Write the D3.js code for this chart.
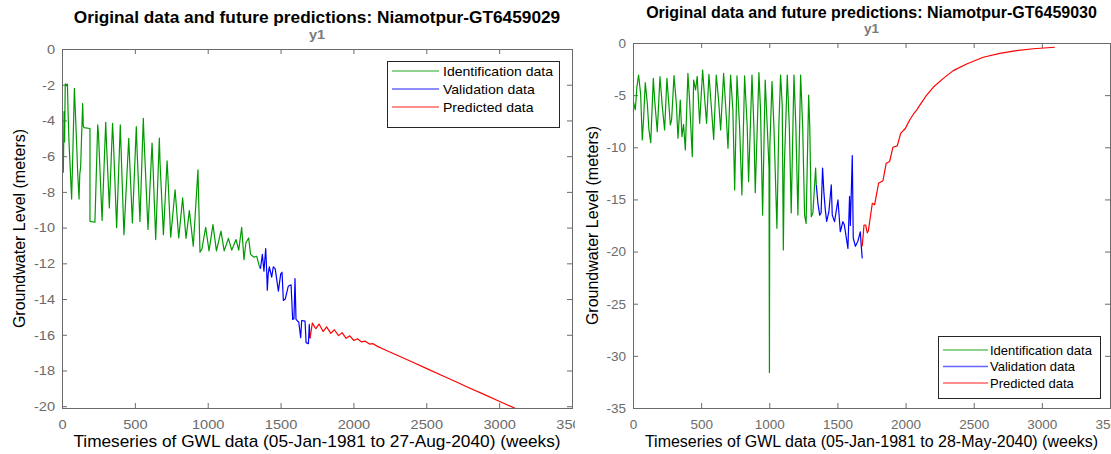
<!DOCTYPE html>
<html><head><meta charset="utf-8">
<script src="https://cdn.jsdelivr.net/npm/d3@7"></script>
<style>
body{margin:0;background:#fff}
svg{display:block}
text{font-family:"Liberation Sans",Arial,Helvetica,sans-serif}
</style>
</head><body>
<svg id="chart" width="1111" height="454"></svg>
<script>
// ---------- tick values ----------
const xTicks = [0, 500, 1000, 1500, 2000, 2500, 3000, 3500];
const leftYTicks = [0, -2, -4, -6, -8, -10, -12, -14, -16, -18, -20];
const rightYTicks = [0, -5, -10, -15, -20, -25, -30, -35];
const legendLabels = ["Identification data", "Validation data", "Predicted data"];

// ---------- Left panel: Niamotpur-GT6459029 ----------
const leftIdWeeks = [0,5,9,12,14,18,22,25,30,37,42,48,56,66,75,85,92,100,108,117,122,128,134,142,146,151,192,192,226,245,250,275,300,306,325,347,352,375,400,405,425,458,463,483,510,515,535,558,563,590,618,623,643,668,673,696,721,726,746,776,781,801,828,851,874,901,933,947,960,986,1009,1036,1060,1091,1113,1142,1165,1194,1213,1233,1249,1262,1281,1294,1318,1336,1354,1362];
const leftIdLevels = [-4.8,-5.6,-6.9,-5.0,-3.5,-5.2,-2.0,-1.95,-2.05,-1.97,-3.6,-5.2,-6.6,-8.4,-5.6,-2.2,-3.6,-5.2,-7.0,-8.4,-7.0,-6.6,-5.0,-3.05,-4.3,-4.4,-4.45,-9.65,-9.7,-4.25,-4.7,-9.6,-4.1,-5.4,-8.9,-4.16,-5.0,-10.0,-4.25,-5.5,-10.4,-5.0,-6.0,-9.74,-4.34,-5.6,-9.65,-3.88,-5.0,-10.1,-5.27,-6.2,-10.67,-4.99,-6.4,-10.4,-6.26,-7.0,-10.54,-7.88,-8.4,-10.58,-8.34,-10.6,-9.05,-11.04,-6.76,-11.38,-11.2,-9.98,-11.3,-9.83,-11.3,-10.2,-11.3,-10.6,-11.26,-10.67,-11.26,-9.98,-11.8,-10.85,-10.58,-11.5,-11.66,-11.6,-12.16,-12.3];
const leftValWeeks = [1362,1375,1386,1398,1405,1409,1415,1423,1439,1450,1463,1485,1501,1510,1519,1532,1553,1572,1583,1592,1599,1606,1625,1638,1645,1668,1675,1691,1697,1702];
const leftValLevels = [-12.3,-11.5,-12.44,-11.17,-12.5,-13.5,-12.6,-12.2,-12.77,-12.2,-12.3,-13.56,-12.59,-12.5,-14.08,-14.0,-13.28,-13.2,-15.14,-15.1,-12.85,-15.14,-15.3,-16.16,-15.2,-15.24,-16.44,-16.5,-15.42,-16.2];
const leftPredWeeks = [1702,1718,1742,1764,1792,1816,1845,1869,1898,1922,1950,1975,2003,2028,2056,2081,2110,2135,2165,2200,2300,2400,2500,2600,2700,2800,2900,3000,3109];
const leftPredLevels = [-16.2,-15.35,-15.66,-15.4,-15.82,-15.56,-15.92,-15.72,-16.05,-15.88,-16.2,-16.06,-16.32,-16.22,-16.4,-16.36,-16.52,-16.5,-16.65,-16.78,-17.15,-17.51,-17.88,-18.25,-18.62,-18.99,-19.35,-19.72,-20.12];

// ---------- Right panel: Niamotpur-GT6459030 ----------
const rightIdWeeks = [0,17,29,41,56,68,78,90,105,117,130,149,159,178,198,215,232,249,261,274,283,301,318,330,347,359,371,384,403,415,435,445,459,471,489,511,525,540,557,574,592,611,628,643,665,682,697,716,733,746,763,782,799,819,838,848,873,887,897,924,936,951,970,985,998,1001,1004,1020,1034,1056,1070,1083,1095,1103,1110,1132,1147,1161,1181,1195,1210,1230,1245,1259,1270,1289,1297,1308,1320,1340,1345];
const rightIdLevels = [-5.47,-6.4,-4.19,-3.07,-4.9,-9.3,-7.2,-3.8,-5.8,-8.34,-9.56,-3.39,-5.5,-8.5,-3.23,-6.1,-8.34,-3.39,-5.5,-7.86,-7.4,-3.13,-5.8,-9.14,-5.47,-8.98,-7.8,-10.26,-2.91,-5.5,-10.9,-3.55,-4.5,-3.2,-7.7,-2.59,-5.2,-7.7,-3.0,-6.0,-9.24,-3.07,-5.5,-8.34,-2.91,-6.5,-10.1,-3.07,-6.5,-14.1,-3.16,-8.0,-14.57,-3.16,-8.0,-13.3,-3.07,-8.0,-14.35,-2.84,-6.5,-16.5,-3.55,-8.0,-12.0,-31.6,-10.0,-3.7,-8.0,-17.77,-8.0,-3.07,-6.0,-19.85,-12.0,-3.07,-8.0,-16.3,-3.07,-8.0,-16.5,-3.07,-8.0,-16.5,-17.3,-4.99,-8.0,-16.65,-16.3,-12.0,-13.6];
const rightValWeeks = [1345,1357,1370,1380,1391,1401,1411,1421,1437,1455,1462,1479,1504,1521,1540,1550,1577,1589,1595,1609,1616,1632,1650,1668,1675,1682];
const rightValLevels = [-13.6,-15.4,-16.5,-16.3,-12.0,-14.4,-16.0,-17.1,-16.2,-13.6,-16.5,-17.13,-15.05,-18.1,-17.13,-17.4,-19.7,-14.7,-17.5,-10.8,-18.7,-19.5,-19.0,-18.1,-19.5,-20.65];
const rightPredWeeks = [1682,1695,1707,1719,1727,1756,1773,1802,1834,1858,1883,1907,1939,1964,1998,2030,2062,2085,2106,2155,2203,2277,2350,2448,2570,2691,2813,2936,3095];
const rightPredLevels = [-19.5,-17.45,-17.45,-18.2,-18.0,-15.37,-15.5,-13.45,-13.2,-11.53,-11.37,-10.0,-9.87,-8.66,-8.2,-7.38,-6.74,-6.36,-5.94,-4.99,-4.25,-3.39,-2.65,-2.01,-1.37,-0.99,-0.74,-0.55,-0.41];

const colors = ["#009a00", "#0000ff", "#ff0000"];
const zip = (w, v) => w.map((d, i) => [d, v[i]]);

const svg = d3.select("#chart");

function drawPanel(cfg) {
  const sx = cfg.sx;
  const g = svg.append("g");
  if (cfg.clipW) {
    const cid = cfg.id + "-outer";
    svg.append("clipPath").attr("id", cid).append("rect")
      .attr("x", cfg.clipX).attr("y", 0).attr("width", cfg.clipW).attr("height", 454);
    g.attr("clip-path", `url(#${cid})`);
  }
  const x = d3.scaleLinear().domain([0, 3500]).range([cfg.left, cfg.right]);
  const y = d3.scaleLinear().domain(cfg.yDomain).range([cfg.bottom, cfg.top]);
  const W = cfg.right - cfg.left, H = cfg.bottom - cfg.top;

  const axColor = "#6a6a6a", lblColor = "#6a6a6a";
  const fmt = d => String(d);
  const styleAxis = (sel) => {
    sel.select(".domain").remove();
    sel.selectAll(".tick line").attr("stroke", axColor).attr("stroke-width", 1);
    sel.selectAll(".tick text").attr("fill", lblColor).attr("font-size", 13.5)
      .attr("font-family", '"Liberation Sans",Arial,sans-serif')
      .attr("transform", `scale(${sx},1)`);
  };
  g.append("g").attr("transform", `translate(0,${cfg.bottom})`)
    .call(d3.axisBottom(x).tickValues(xTicks).tickFormat(fmt).tickSizeInner(-5).tickSizeOuter(0).tickPadding(11.5))
    .call(styleAxis);
  g.append("g").attr("transform", `translate(0,${cfg.top})`)
    .call(d3.axisTop(x).tickValues(xTicks).tickFormat("").tickSizeInner(-5).tickSizeOuter(0))
    .call(styleAxis);
  g.append("g").attr("transform", `translate(${cfg.left},0)`)
    .call(d3.axisLeft(y).tickValues(cfg.yTicks).tickFormat(fmt).tickSizeInner(-5).tickSizeOuter(0).tickPadding(7 / sx))
    .call(styleAxis);
  g.append("g").attr("transform", `translate(${cfg.right},0)`)
    .call(d3.axisRight(y).tickValues(cfg.yTicks).tickFormat("").tickSizeInner(-5).tickSizeOuter(0))
    .call(styleAxis);

  // data lines
  const clipId = cfg.id + "-clip";
  svg.append("clipPath").attr("id", clipId).append("rect")
    .attr("x", cfg.left).attr("y", cfg.top).attr("width", W).attr("height", H);
  const line = d3.line().x(d => x(d[0])).y(d => y(d[1]));
  const lg = g.append("g").attr("clip-path", `url(#${clipId})`);
  cfg.series.forEach((s, i) => {
    lg.append("path").datum(s).attr("d", line).attr("fill", "none")
      .attr("stroke", colors[i]).attr("stroke-width", 1.2).attr("stroke-linejoin", "round");
  });

  // box
  g.append("rect").attr("x", cfg.left + 0.5).attr("y", cfg.top + 0.5)
    .attr("width", W).attr("height", H).attr("fill", "none")
    .attr("stroke", axColor).attr("stroke-width", 1);

  // stretched text helper
  const stext = (px, py, anchor, size, str) =>
    g.append("text").attr("transform", `translate(${px},${py}) scale(${sx},1)`)
      .attr("text-anchor", anchor).attr("font-size", size).text(str);

  const cx = (cfg.left + cfg.right) / 2;
  stext(cx, cfg.titleY, "middle", 16, cfg.title).attr("font-weight", "bold").attr("fill", "#000");
  stext(cx, cfg.y1Y, "middle", 13.5, "y1").attr("font-weight", "bold").attr("fill", "#7a7a7a");
  stext(cx, 447, "middle", 16, cfg.xlabel).attr("fill", "#000");
  g.append("text").attr("transform", `translate(${cfg.ylabelX},${(cfg.top + cfg.bottom) / 2}) rotate(-90)`)
    .attr("text-anchor", "middle").attr("font-size", 16).attr("fill", "#000")
    .text("Groundwater Level (meters)");

  // legend
  const L = cfg.legend;
  const leg = g.append("g");
  leg.append("rect").attr("x", L.x + 0.5).attr("y", L.y + 0.5).attr("width", L.w).attr("height", L.h)
    .attr("fill", "#fff").attr("stroke", "#262626").attr("stroke-width", 1);
  legendLabels.forEach((t, i) => {
    const yy = L.y + L.first + i * L.step;
    leg.append("line").attr("x1", L.x + 5).attr("x2", L.x + L.lineLen + 5)
      .attr("y1", yy).attr("y2", yy).attr("stroke", colors[i]).attr("stroke-opacity", 0.6).attr("stroke-width", 1.5);
    leg.append("text").attr("transform", `translate(${L.x + L.textX},${yy}) scale(${sx},1)`)
      .attr("dy", "0.35em").attr("font-size", 13).attr("fill", "#000").text(t);
  });
}

drawPanel({
  id: "left", left: 62, right: 572, top: 49, bottom: 408, sx: 1.08,
  clipX: 0, clipW: 575,
  yDomain: [-20.1, 0], yTicks: leftYTicks,
  title: "Original data and future predictions: Niamotpur-GT6459029",
  titleY: 23, y1Y: 39, ylabelX: 25,
  xlabel: "Timeseries of GWL data (05-Jan-1981 to 27-Aug-2040) (weeks)",
  series: [zip(leftIdWeeks, leftIdLevels), zip(leftValWeeks, leftValLevels), zip(leftPredWeeks, leftPredLevels)],
  legend: { x: 387, y: 61, w: 172, h: 66, first: 10, step: 18, lineLen: 47, textX: 56 }
});

drawPanel({
  id: "right", left: 633, right: 1110, top: 43, bottom: 408, sx: 1.0,
  clipX: 577, clipW: 534,
  yDomain: [-35, 0], yTicks: rightYTicks,
  title: "Original data and future predictions: Niamotpur-GT6459030",
  titleY: 18, y1Y: 33, ylabelX: 598,
  xlabel: "Timeseries of GWL data (05-Jan-1981 to 28-May-2040) (weeks)",
  series: [zip(rightIdWeeks, rightIdLevels), zip(rightValWeeks, rightValLevels), zip(rightPredWeeks, rightPredLevels)],
  legend: { x: 938, y: 336, w: 162, h: 62, first: 14, step: 16.5, lineLen: 45, textX: 52 }
});
</script>
</body></html>
